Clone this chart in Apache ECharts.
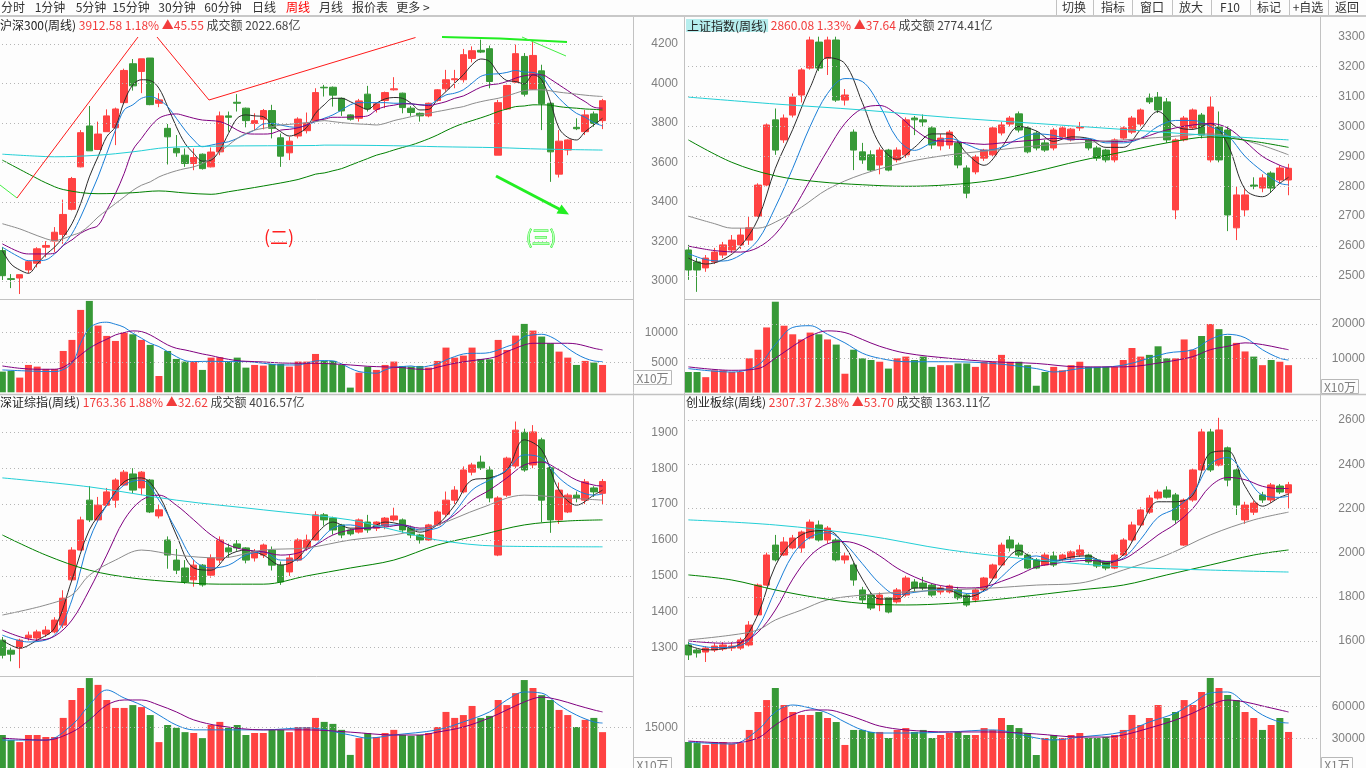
<!DOCTYPE html>
<html><head><meta charset="utf-8"><title>周线</title>
<script src="https://cdn.jsdelivr.net/npm/echarts@6.0.0/dist/echarts.min.js"></script>
<style>html,body{margin:0;padding:0;background:#fdfdfd;overflow:hidden}#chart{width:1366px;height:768px}</style>
</head><body><div id="chart"></div>
<script>
const weeks = Array.from({length:73},(_,i)=>'W'+(i+1));
// sparse [index, value] readings -> full array (null where not read; line drawn with connectNulls)
const sparse = (pairs) => { const a = new Array(70).fill(null); pairs.forEach(([i,v]) => a[i] = v); return a; };

// ---------- 沪深300 (周线) ----------  [open, close, low, high]
const hs300Ohlc = [
[3154,3027,3005,3171],[3012,3008,2964,3035],[3015,3032,2934,3032],[3056,3098,3039,3103],[3090,3163,3069,3171],
[3171,3180,3120,3202],[3202,3247,3146,3273],[3236,3337,3188,3412],[3363,3519,3358,3527],[3578,3751,3575,3764],
[3785,3659,3659,3886],[3666,3744,3663,3807],[3756,3836,3756,3869],[3776,3871,3688,3878],[3903,4066,3903,4075],
[4100,3988,3964,4124],[4061,4125,3951,4125],[4129,3893,3890,4129],[3900,3917,3880,3951],[3773,3730,3590,3795],
[3671,3649,3629,3739],[3637,3595,3578,3671],[3595,3625,3561,3671],[3642,3569,3564,3646],[3578,3653,3575,3676],
[3654,3836,3637,3858],[3836,3829,3756,3858],[3905,3900,3858,3946],[3875,3812,3778,3878],[3798,3812,3764,3849],
[3819,3863,3768,3871],[3863,3773,3722,3892],[3725,3632,3578,3747],[3649,3708,3612,3730],[3734,3820,3722,3829],
[3761,3798,3747,3853],[3812,3954,3808,3976],[3981,3978,3934,3993],[3981,3941,3883,3985],[3925,3861,3836,3929],
[3841,3819,3812,3844],[3824,3912,3807,3922],[3946,3871,3858,3988],[3869,3897,3853,3897],[3914,3954,3875,3959],
[3968,3973,3964,4032],[3951,3878,3849,3954],[3875,3853,3836,3886],[3849,3836,3807,3853],[3836,3900,3829,3903],
[3914,3968,3908,3971],[3973,4019,3959,4069],[4019,4024,3976,4069],[4019,4146,4005,4175],[4127,4166,4107,4188],
[4168,4159,4154,4222],[4176,4010,3976,4192],[3637,3903,3637,3917],[3871,3990,3866,3993],[4007,4151,4002,4197],
[4137,3946,3934,4154],[3971,4142,3968,4214],[4064,3898,3764,4095],[3900,3654,3502,3903],[3541,3708,3524,3764],
[3663,3714,3637,3717],[3778,3771,3764,3824],[3756,3841,3739,3866],[3846,3798,3781,3858],[3812,3913,3769,3922]
];
const hs300Vol = [3450,3560,2450,4560,4280,3890,3890,6890,8730,13730,15230,11120,9400,8560,9950,9670,8730,7900,2720,6890,
5560,5120,5120,3730,5780,5840,5120,5780,4110,4560,4450,4730,4730,4280,5120,5120,6390,5230,5230,4560,
780,3280,4280,3730,4560,5120,4390,4280,4390,4110,5230,7450,5780,6120,7450,5560,5500,8730,7060,9450,
11400,10290,9290,8170,6780,5780,4560,5230,4950,4560];
const hs300Ma5 = [3154,3086,3056,3039,3086,3134,3171,3222,3290,3392,3527,3629,3731,3781,3908,3993,4019,4015,3976,3883,
3781,3697,3646,3607,3612,3663,3747,3824,3841,3836,3832,3790,3756,3734,3747,3778,3849,3892,3925,3925,
3908,3886,3869,3900,3922,3929,3925,3900,3866,3869,3917,3959,4002,4044,4095,4124,4112,4053,4015,4010,
3998,4044,4019,3908,3773,3727,3714,3756,3790,3824];
const hs300Ma10 = [3171,null,3120,3103,3103,3107,3137,3180,3239,3324,3425,3527,3646,3764,3866,3892,3925,3934,3917,3883,
3824,3764,3714,3680,3688,3697,3705,3722,3744,3764,3795,3798,3790,3781,3778,3790,3807,3824,3841,3866,
3892,3903,3903,3903,3903,3900,3900,3897,3892,3892,3917,3942,3951,3968,4002,4036,4047,4049,4056,4066,
4058,4056,4036,3976,3925,3883,3849,3829,3802,3785];
const hs300Ma20 = [3188,null,3146,3137,null,3137,3141,3180,3208,3242,3264,3281,3358,3442,3544,3663,3722,3781,3824,3841,
3846,3836,3824,3815,3812,3807,3790,3764,3747,3744,3744,3747,3764,3768,3776,3790,3812,3819,3829,3829,
3830,3832,3836,3866,3883,3890,3897,3897,3892,3888,3897,3908,3925,3937,3959,3981,3993,3998,4010,4027,
4039,4044,4044,4022,3993,3964,3934,3908,3880,3875];
const hs300Ma60 = [3290,null,3264,3247,null,3214,3205,3214,3231,3247,3281,3324,3358,3392,3425,3459,3485,3502,3527,3544,
3558,3569,3578,3595,3620,3654,3688,3722,3747,3764,3773,3781,3790,3793,3798,3802,3807,3812,3807,3802,
3798,3795,3793,3790,3798,3812,3822,3832,3841,3849,3858,3866,3875,3883,3897,3908,3917,3925,3937,3951,
3964,3968,3968,3963,3956,3951,3946,3941,3937,3934];
const hs300Ma120 = sparse([[0,3612],[4,3519],[5,3497],[7,3463],[11,3442],[15,3447],[18,3456],[21,3446],[24,3439],[26,3452],
[30,3481],[34,3514],[36,3541],[37,3547],[38,3558],[39,3569],[40,3586],[41,3603],[42,3620],[43,3637],[44,3649],[45,3663],
[46,3676],[47,3688],[48,3703],[49,3720],[50,3739],[51,3761],[52,3781],[53,3798],[54,3812],[55,3826],[56,3841],[57,3858],
[58,3871],[59,3883],[60,3886],[61,3892],[62,3892],[63,3890],[64,3883],[65,3878],[66,3875],[67,3871],[68,3869],[69,3866]]);
const hs300Ma250 = sparse([[0,3642],[4,3632],[6,3629],[11,3637],[15,3654],[19,3676],[25,3683],[36,3686],[37,3688],[45,3685],
[50,3680],[57,3675],[62,3668],[69,3663]]);
const hs300VolMa5 = sparse([[0,3730],[6,3450],[8,4840],[9,8170],[10,10680],[11,11510],[12,11680],[13,11340],[14,10840],[15,9840],
[16,9010],[17,8170],[18,7620],[19,6780],[20,5950],[21,5280],[22,5120],[24,5170],[26,5120],[28,5120],[30,4840],[32,4560],
[34,4560],[35,4840],[36,5230],[37,5280],[38,5230],[39,4730],[40,4000],[41,3450],[42,3280],[43,3170],[44,3730],[45,4170],
[46,4280],[47,4390],[48,4170],[49,4390],[50,4730],[51,5390],[52,5950],[53,6390],[54,6500],[55,6500],[56,6620],[57,7060],
[58,7620],[59,8170],[60,9290],[61,9560],[62,9670],[63,9290],[64,8450],[65,7340],[66,6390],[67,5670],[68,5230],[69,5120]]);
const hs300VolMa10 = sparse([[0,4390],[2,4000],[4,3840],[6,3840],[7,4170],[8,5120],[9,6230],[10,7340],[11,8170],[12,8840],
[13,9560],[14,9950],[15,10230],[16,10120],[17,9560],[18,8730],[19,7900],[20,7340],[21,7060],[22,6730],[23,6390],[24,6120],
[25,5780],[26,5500],[27,5280],[28,5170],[30,5060],[32,4890],[34,4840],[36,4840],[38,4730],[40,4560],[42,4340],[44,4230],
[46,4110],[48,3840],[49,3840],[50,4170],[52,4840],[54,5280],[56,5670],[57,6060],[58,6780],[59,7340],[60,7900],[61,8170],
[63,8170],[65,8170],[66,8060],[67,7730],[68,7340],[69,7060]]);
const hs300Ticks = [3000,3200,3400,3600,3800,4000,4200];
const hs300VolTicks = [5000,10000];

// ---------- 上证指数 (周线) ----------
const shOhlc = [
[2587,2520,2487,2604],[2547,2520,2447,2560],[2527,2560,2514,2570],[2547,2580,2540,2594],[2570,2604,2560,2614],
[2587,2620,2577,2637],[2604,2637,2590,2660],[2620,2661,2604,2700],[2700,2804,2697,2810],[2804,3005,2800,3010],
[3022,2921,2905,3060],[2955,3028,2945,3040],[3038,3098,3030,3110],[3105,3189,3080,3195],[3195,3289,3190,3300],
[3282,3195,3185,3300],[3228,3289,3172,3300],[3289,3088,3082,3300],[3088,3105,3070,3125],[2981,2921,2854,2990],
[2915,2888,2875,2945],[2905,2854,2848,2920],[2871,2921,2840,2930],[2921,2854,2850,2925],[2888,2921,2880,2930],
[2905,3022,2895,3030],[3028,3022,2971,3035],[3022,3015,3000,3040],[2995,2938,2925,3000],[2935,2961,2920,2975],
[2938,2981,2925,2988],[2945,2871,2860,2955],[2861,2777,2760,2870],[2848,2898,2840,2905],[2894,2921,2885,2925],
[2905,2995,2900,3000],[2978,3005,2970,3015],[3008,3028,3000,3035],[3042,2988,2980,3050],[2995,2915,2910,3000],
[2978,2928,2920,2985],[2945,2921,2915,2955],[2928,2988,2920,2995],[2965,2995,2960,3000],[2955,2991,2950,2995],
[2995,2998,2985,3015],[2955,2928,2920,2960],[2928,2894,2885,2935],[2921,2888,2880,2925],[2888,2955,2880,2960],
[2961,2995,2955,3000],[2981,3028,2975,3035],[3008,3055,3000,3060],[3095,3082,3075,3110],[3098,3055,3045,3115],
[3082,2955,2945,3095],[2721,2955,2690,2960],[2955,3028,2950,3035],[2995,3055,2990,3060],[3038,2971,2960,3045],
[2888,3065,2880,3100],[2998,2888,2880,3050],[2988,2704,2650,3000],[2661,2771,2620,2800],[2721,2771,2700,2790],
[2804,2800,2790,2830],[2794,2828,2780,2840],[2844,2794,2780,2850],[2821,2861,2810,2870],[2821,2860,2770,2875]
];
const shVol = [6000,6000,4500,6500,6500,6000,6000,10000,12500,19000,26500,19500,17000,15500,17500,17000,15500,14000,5500,12500,
10000,9500,9000,7000,10000,10500,9500,10500,7500,8000,8000,8500,8500,7500,9000,9000,11000,9000,9000,8000,
2000,6000,7500,6500,8000,9000,7500,7500,7500,7500,9500,13000,10500,11000,13500,10000,10000,15500,12500,16500,
20000,18500,16500,14500,12000,10500,8000,9500,9000,8000];
const shMa5 = sparse([[0,2560],[2,2540],[4,2555],[6,2600],[8,2690],[10,2860],[12,2990],[14,3130],[16,3230],[18,3210],[20,3080],
[22,2940],[24,2890],[26,2930],[28,2975],[30,2975],[32,2910],[34,2870],[36,2930],[38,3000],[40,2985],[42,2950],[44,2965],
[46,2960],[48,2930],[50,2930],[52,2990],[54,3050],[56,3000],[58,2990],[60,3010],[62,2940],[64,2790],[66,2765],[68,2810],[69,2830]]);
const shMa10 = sparse([[0,2575],[2,2555],[4,2550],[6,2570],[8,2620],[10,2730],[12,2860],[14,3000],[16,3110],[18,3160],[20,3150],
[22,3070],[24,2960],[26,2920],[28,2945],[30,2960],[32,2940],[34,2920],[36,2930],[38,2960],[40,2975],[42,2970],[44,2955],
[46,2960],[48,2945],[50,2945],[52,2960],[54,3000],[56,3020],[58,3020],[60,3000],[62,2970],[64,2900],[66,2850],[68,2810],[69,2805]]);
const shMa20 = sparse([[0,2600],[3,2585],[6,2580],[8,2595],[10,2640],[12,2720],[14,2820],[16,2920],[18,3010],[20,3060],[22,3070],
[24,3040],[26,2990],[28,2955],[30,2950],[32,2945],[34,2940],[36,2945],[38,2950],[40,2955],[42,2960],[44,2958],[46,2955],
[48,2950],[50,2950],[52,2960],[54,2980],[56,2995],[58,3005],[60,3010],[62,2995],[64,2950],[66,2900],[68,2870],[69,2860]]);
const shMa60 = sparse([[0,2700],[3,2675],[5,2660],[8,2660],[10,2680],[13,2730],[16,2790],[20,2840],[25,2880],[30,2905],[35,2920],
[40,2935],[45,2945],[50,2955],[55,2965],[60,2975],[65,2945],[69,2905]]);
const shMa120 = sparse([[0,2955],[5,2880],[10,2835],[15,2815],[20,2805],[25,2800],[30,2805],[35,2820],[40,2850],[45,2885],[50,2915],
[55,2945],[60,2965],[65,2950],[69,2930]]);
const shMa250 = sparse([[0,3098],[10,3075],[20,3055],[30,3030],[40,3010],[50,2990],[60,2970],[69,2955]]);
const shVolMa5 = sparse([[0,7000],[5,6000],[8,8000],[10,14000],[12,19000],[14,19500],[16,17000],[18,14500],[20,11500],[22,10000],
[25,9000],[30,9000],[35,8500],[40,7000],[42,6000],[45,7000],[50,8000],[55,11500],[58,12500],[60,15500],[62,17000],[64,16000],
[66,12500],[68,10000],[69,9500]]);
const shVolMa10 = sparse([[0,7500],[5,6500],[8,7000],[10,10000],[12,13500],[14,16500],[16,18000],[18,17500],[20,15500],[22,13500],
[25,11500],[30,10000],[35,9000],[40,8500],[45,7500],[50,7500],[55,9000],[58,10500],[60,12500],[62,13500],[64,14500],[66,14000],
[68,13000],[69,12500]]);
const shTicks = [2500,2600,2700,2800,2900,3000,3100,3200,3300];
const shVolTicks = [10000,20000];

// ---------- 深证综指 (周线) ----------
const szOhlc = [
[1321,1279,1270,1330],[1293,1282,1262,1300],[1299,1321,1243,1325],[1327,1335,1320,1345],[1327,1344,1320,1350],
[1338,1349,1330,1360],[1344,1377,1340,1385],[1363,1438,1355,1460],[1489,1572,1485,1580],[1572,1656,1570,1665],
[1711,1656,1650,1750],[1656,1697,1650,1720],[1697,1734,1695,1745],[1711,1767,1690,1772],[1753,1789,1753,1795],
[1784,1739,1730,1800],[1745,1789,1725,1792],[1767,1678,1675,1770],[1667,1684,1660,1700],[1600,1558,1520,1610],
[1544,1516,1505,1575],[1522,1483,1478,1544],[1489,1530,1470,1544],[1530,1475,1470,1533],[1502,1550,1495,1560],
[1544,1600,1535,1610],[1578,1567,1550,1590],[1589,1578,1570,1600],[1578,1544,1535,1580],[1550,1567,1540,1575],
[1558,1586,1550,1590],[1572,1530,1515,1582],[1530,1483,1475,1540],[1511,1550,1500,1560],[1544,1600,1540,1605],
[1578,1600,1570,1615],[1600,1670,1598,1680],[1670,1656,1640,1675],[1661,1628,1615,1665],[1642,1614,1605,1645],
[1628,1617,1612,1632],[1622,1656,1618,1660],[1650,1628,1620,1670],[1633,1650,1625,1652],[1639,1661,1630,1664],
[1656,1667,1652,1690],[1656,1628,1620,1660],[1633,1614,1605,1640],[1614,1600,1590,1617],[1600,1642,1598,1645],
[1642,1678,1640,1682],[1672,1711,1665,1735],[1711,1739,1700,1750],[1734,1795,1730,1805],[1789,1809,1780,1815],
[1817,1801,1795,1835],[1795,1717,1705,1805],[1558,1717,1555,1722],[1725,1828,1720,1832],[1806,1906,1800,1930],
[1900,1795,1790,1910],[1809,1901,1800,1920],[1879,1711,1650,1885],[1801,1656,1620,1805],[1656,1739,1645,1760],
[1678,1725,1675,1730],[1725,1717,1705,1735],[1711,1762,1700,1770],[1745,1734,1720,1750],[1730,1763,1700,1770]
];
const szVol = [12300,10500,9800,12300,12300,11600,11600,18300,24600,28800,32300,29900,24600,21800,21800,22800,22100,19300,9800,15800,
14800,13300,13000,11200,15800,16900,14800,15800,12300,13000,13000,14100,14100,13300,15100,15100,18300,16900,16200,14100,
5300,11200,13000,11600,13000,14100,12300,12000,12300,13000,15100,20400,18300,19300,22500,18300,19000,24600,22800,27000,
31600,28800,26300,24600,21100,19300,15100,17600,18300,13300];
const szMa5 = sparse([[0,1321],[2,1299],[4,1321],[6,1355],[8,1489],[10,1628],[12,1697],[14,1762],[16,1773],[18,1725],[20,1614],
[22,1522],[24,1516],[26,1558],[28,1572],[30,1558],[32,1530],[34,1550],[36,1614],[38,1650],[40,1633],[42,1633],[44,1650],
[46,1642],[48,1622],[50,1642],[52,1697],[54,1767],[56,1773],[58,1795],[60,1879],[62,1851],[64,1739],[66,1697],[68,1725],[69,1739]]);
const szMa10 = sparse([[0,1335],[3,1316],[6,1335],[8,1433],[10,1600],[12,1697],[14,1753],[16,1767],[18,1711],[20,1628],[22,1544],
[24,1522],[26,1530],[28,1558],[30,1567],[32,1544],[34,1544],[36,1586],[38,1633],[40,1642],[42,1633],[44,1642],[46,1642],
[48,1628],[50,1633],[52,1678],[54,1739],[56,1767],[58,1795],[60,1837],[62,1828],[64,1773],[66,1739],[68,1725],[69,1728]]);
const szMa20 = sparse([[0,1349],[4,1321],[6,1332],[8,1377],[10,1461],[12,1558],[14,1656],[16,1711],[18,1725],[20,1697],[22,1656],
[24,1614],[26,1586],[28,1572],[30,1567],[32,1558],[34,1564],[36,1586],[38,1614],[40,1628],[42,1633],[44,1636],[46,1642],
[48,1633],[50,1642],[52,1670],[54,1711],[56,1739],[58,1773],[60,1809],[62,1817],[64,1795],[66,1767],[68,1753],[69,1750]]);
const szMa60 = sparse([[0,1391],[5,1419],[8,1447],[10,1502],[13,1544],[16,1572],[20,1558],[25,1550],[30,1572],[35,1578],[40,1600],
[45,1614],[50,1642],[55,1689],[60,1725],[65,1717],[69,1711]]);
const szMa120 = sparse([[0,1614],[5,1558],[10,1516],[15,1494],[20,1483],[25,1477],[30,1477],[35,1500],[40,1522],[45,1544],[50,1586],
[55,1614],[60,1642],[65,1653],[69,1656]]);
const szMa250 = sparse([[0,1773],[10,1748],[20,1711],[30,1684],[40,1656],[45,1628],[50,1600],[57,1583],[69,1581]]);
const szVolMa5 = sparse([[0,10500],[5,10500],[8,15800],[10,22800],[12,28100],[14,25300],[16,22800],[18,19300],[20,15800],[22,14100],
[25,14100],[30,14100],[35,14800],[40,12300],[42,11200],[45,12300],[50,14100],[53,16900],[56,20400],[58,24600],[60,27400],[62,27000],
[64,22800],[66,19300],[68,16900],[69,16500]]);
const szVolMa10 = sparse([[0,11200],[5,10500],[8,13300],[10,17600],[12,22800],[14,24600],[16,24600],[18,22800],[20,20400],[22,17600],
[25,15500],[30,14100],[35,14100],[40,13300],[45,12300],[48,12300],[50,13300],[53,15100],[56,18300],[58,21100],[60,23900],[62,25600],
[64,24600],[66,22800],[68,21100],[69,20400]]);
const szTicks = [1300,1400,1500,1600,1700,1800,1900];
const szVolTicks = [15000];

// ---------- 创业板综 (周线) ----------
const cyOhlc = [
[1582,1537,1514,1600],[1559,1546,1525,1565],[1550,1568,1505,1575],[1559,1577,1550,1590],[1564,1582,1555,1595],
[1568,1577,1555,1595],[1568,1605,1560,1615],[1582,1672,1575,1690],[1718,1853,1715,1860],[1853,1989,1850,2000],
[2034,1967,1960,2080],[1989,2048,1985,2070],[2021,2066,2015,2080],[2021,2093,2000,2100],[2066,2138,2060,2150],
[2125,2057,2050,2145],[2057,2111,2040,2120],[2057,1967,1960,2065],[1967,1985,1950,2000],[1944,1876,1850,1955],
[1831,1786,1770,1845],[1808,1749,1740,1820],[1763,1808,1735,1820],[1795,1731,1725,1800],[1777,1831,1770,1840],
[1808,1885,1800,1895],[1867,1840,1820,1880],[1862,1840,1830,1890],[1853,1808,1800,1860],[1822,1840,1810,1850],
[1822,1849,1815,1855],[1831,1795,1785,1845],[1808,1763,1755,1815],[1786,1831,1775,1840],[1831,1885,1825,1890],
[1885,1944,1880,1950],[1944,2034,1940,2045],[2057,2021,2005,2075],[2034,1989,1980,2045],[1989,1930,1925,1995],
[1967,1930,1925,1975],[1944,1989,1940,2000],[1985,1944,1935,2005],[1967,1989,1960,1995],[1976,2003,1965,2010],
[1989,2012,1980,2035],[1989,1958,1950,1995],[1967,1939,1930,1975],[1958,1930,1920,1962],[1930,1989,1925,1995],
[1989,2057,1985,2065],[2057,2125,2050,2140],[2125,2193,2115,2205],[2183,2247,2175,2260],[2247,2274,2240,2285],
[2283,2251,2245,2300],[2261,2148,2130,2270],[2034,2238,2030,2245],[2238,2374,2230,2380],[2374,2546,2370,2560],
[2546,2374,2365,2560],[2396,2555,2390,2610],[2474,2328,2300,2480],[2374,2215,2170,2380],[2148,2215,2130,2230],
[2183,2224,2170,2235],[2261,2238,2225,2275],[2238,2306,2225,2315],[2301,2274,2265,2310],[2270,2307,2200,2320]
];
const cyVol = [26500,25500,23700,26500,26500,24600,25500,37900,54900,66200,77600,61500,54900,52100,52100,54900,49200,45400,23700,37900,
37900,36000,36000,30300,37900,39700,36000,37900,30300,33100,35000,36000,33100,33100,39700,37900,49200,42600,39700,35000,
14200,30300,33100,30300,33100,35000,30300,30300,31200,33100,37900,52100,42600,49200,61500,49200,54900,66200,61500,73800,
87100,77600,71000,66200,54900,49200,37900,42600,49200,36000];
const cyMa5 = sparse([[0,1580],[2,1560],[4,1565],[6,1590],[8,1720],[10,1940],[12,2050],[14,2095],[16,2100],[18,2030],[20,1880],
[22,1790],[24,1790],[26,1840],[28,1840],[30,1830],[32,1800],[34,1830],[36,1940],[38,2010],[40,1965],[42,1960],[44,1980],
[46,1985],[48,1950],[50,1990],[52,2120],[54,2230],[56,2230],[58,2260],[60,2450],[62,2460],[64,2300],[66,2210],[68,2250],[69,2265]]);
const cyMa10 = sparse([[0,1590],[3,1570],[6,1580],[8,1660],[10,1830],[12,1990],[14,2070],[16,2090],[18,2040],[20,1950],[22,1860],
[24,1810],[26,1820],[28,1830],[30,1835],[32,1815],[34,1825],[36,1890],[38,1960],[40,1985],[42,1965],[44,1970],[46,1975],
[48,1960],[50,1975],[52,2060],[54,2160],[56,2200],[58,2270],[60,2400],[62,2430],[64,2350],[66,2260],[68,2250],[69,2255]]);
const cyMa20 = sparse([[0,1600],[4,1590],[6,1595],[8,1640],[10,1740],[12,1880],[14,1985],[16,2040],[18,2050],[20,2030],[22,1985],
[24,1930],[26,1890],[28,1860],[30,1845],[32,1840],[34,1845],[36,1870],[38,1900],[40,1935],[42,1950],[44,1960],[46,1965],
[48,1960],[50,1970],[52,2020],[54,2080],[56,2130],[58,2200],[60,2300],[62,2340],[64,2330],[66,2300],[68,2290],[69,2290]]);
const cyMa60 = sparse([[0,1605],[5,1627],[8,1650],[10,1695],[13,1740],[16,1786],[20,1808],[25,1822],[30,1831],[35,1840],[40,1853],
[45,1862],[50,1921],[55,1989],[60,2080],[65,2148],[69,2183]]);
const cyMa120 = sparse([[0,1899],[5,1876],[10,1831],[15,1795],[20,1770],[25,1763],[30,1770],[35,1786],[40,1808],[45,1831],[50,1853],
[55,1899],[60,1944],[65,1989],[69,2012]]);
const cyMa250 = sparse([[0,2148],[10,2125],[20,2080],[30,2012],[40,1967],[50,1935],[60,1921],[69,1912]]);
const cyVolMa5 = sparse([[0,26500],[5,24600],[8,37900],[10,54900],[12,61500],[14,58700],[16,53900],[18,45400],[20,37900],[22,35000],
[25,35000],[30,36000],[35,37900],[40,30300],[42,28400],[45,31200],[50,36000],[53,45400],[56,53900],[58,63400],[60,72900],[62,73800],
[64,63400],[66,52100],[68,45400],[69,44500]]);
const cyVolMa10 = sparse([[0,27400],[5,25600],[8,30300],[10,42600],[12,52100],[14,56800],[16,56800],[18,53000],[20,47300],[22,41600],
[25,37900],[30,36000],[35,36000],[40,34100],[45,31200],[48,31200],[50,33100],[53,39700],[56,47300],[58,53900],[60,61500],[62,66200],
[64,64400],[66,60600],[68,56800],[69,54900]]);
const cyTicks = [1600,1800,2000,2200,2400,2600];
const cyVolTicks = [30000,60000];

// ---------- layout / style ----------
const RED = '#ff4242', GREEN = '#379937';
const MA_COLORS = ['#2b2b2b','#1a7fd8','#800080','#8c8c8c','#008000','#22cfd6'];
const FONT = '"Noto Sans CJK SC", sans-serif';
const NUMFONT = '"Liberation Sans", Arial, sans-serif';

const panels = [
  {left:-2, top:18, h:281, vTop:300, vH:92.3, min:2908.9, max:4331.6, vMax:15383, ticks:hs300Ticks, vTicks:hs300VolTicks,
   ohlc:hs300Ohlc, vol:hs300Vol, mas:[hs300Ma5,hs300Ma10,hs300Ma20,hs300Ma60,hs300Ma120,hs300Ma250], vmas:[hs300VolMa5,hs300VolMa10], margin:45},
  {left:684, top:18, h:281, vTop:300, vH:92.6, min:2423.1, max:3362.5, vMax:27000, ticks:shTicks, vTicks:shVolTicks, gridSkip:[3300],
   ohlc:shOhlc, vol:shVol, mas:[shMa5,shMa10,shMa20,shMa60,shMa120,shMa250], vmas:[shVolMa5,shVolMa10], margin:46},
  {left:-2, top:396, h:280, vTop:677, vH:93, min:1221.2, max:2001.1, vMax:32670, ticks:szTicks, vTicks:szVolTicks,
   ohlc:szOhlc, vol:szVol, mas:[szMa5,szMa10,szMa20,szMa60,szMa120,szMa250], vmas:[szVolMa5,szVolMa10], margin:45},
  {left:684, top:396, h:280, vTop:677, vH:93, min:1441.6, max:2708.6, vMax:88013, ticks:cyTicks, vTicks:cyVolTicks,
   ohlc:cyOhlc, vol:cyVol, mas:[cyMa5,cyMa10,cyMa20,cyMa60,cyMa120,cyMa250], vmas:[cyVolMa5,cyVolMa10], margin:46}
];

const grid = [], xAxis = [], yAxis = [], series = [];
panels.forEach((p, k) => {
  const gi = 2*k, vi = 2*k+1;
  grid.push({left:p.left, top:p.top, width:635, height:p.h, containLabel:false, outerBoundsMode:'none'});
  grid.push({left:p.left, top:p.vTop, width:635, height:p.vH, containLabel:false, outerBoundsMode:'none'});
  [gi, vi].forEach(g => xAxis.push({type:'category', gridIndex:g, data:weeks, boundaryGap:true, show:false}));
  const lab = (vals) => ({show:true, customValues:vals, formatter:(v)=>String(Math.round(v)), color:'#808080', fontSize:12,
    fontFamily:NUMFONT, align:'right', margin:p.margin});
  yAxis.push({type:'value', gridIndex:gi, position:'right', min:p.min, max:p.max,
    splitLine:{show:false}, axisLine:{show:false}, axisTick:{show:false}, axisLabel:lab(p.ticks)});
  yAxis.push({type:'value', gridIndex:vi, position:'right', min:0, max:p.vMax,
    splitLine:{show:false}, axisLine:{show:false}, axisTick:{show:false}, axisLabel:lab(p.vTicks)});
  const ml = (vals) => ({silent:true, symbol:['none','none'], animation:false, label:{show:false},
    lineStyle:{color:'#b5b5b5', type:[1,3], width:1}, emphasis:{disabled:true}, data:vals.map(v=>({yAxis:v}))});
  const gridVals = p.ticks.filter(v => !(p.gridSkip||[]).includes(v));
  series.push({type:'candlestick', xAxisIndex:gi, yAxisIndex:gi, data:p.ohlc, barWidth:7, silent:true,
    itemStyle:{color:RED, color0:GREEN, borderColor:RED, borderColor0:GREEN, borderWidth:1},
    markLine:ml(gridVals), z:2});
  p.mas.forEach((d, j) => series.push({type:'line', xAxisIndex:gi, yAxisIndex:gi, data:d, symbol:'none', showSymbol:false,
    smooth:0.35, connectNulls:true, silent:true, lineStyle:{width:1, color:MA_COLORS[j]}, z:3}));
  series.push({type:'bar', xAxisIndex:vi, yAxisIndex:vi, barWidth:7, silent:true,
    data:p.vol.map((v,i)=>({value:v, itemStyle:{color: p.ohlc[i][1] >= p.ohlc[i][0] ? RED : GREEN}})),
    markLine:ml(p.vTicks), z:2});
  p.vmas.forEach((d, j) => series.push({type:'line', xAxisIndex:vi, yAxisIndex:vi, data:d, symbol:'none', showSymbol:false,
    smooth:0.35, connectNulls:true, silent:true, lineStyle:{width:1, color: j===0 ? '#1a7fd8' : '#800080'}, z:3}));
});

// ---------- chrome (toolbar, frame, headers, annotations) ----------
const G = [];
const txt = (x,y,text,opt={}) => G.push({type:'text', x, y, z:100, silent:true, style:Object.assign({text, fill:'#333',
  font:'12px ' + FONT, align:'center', verticalAlign:'middle'}, opt)});
const ln = (x1,y1,x2,y2,stroke='#c2c2c2',w=1) => G.push({type:'line', z:90, silent:true, shape:{x1,y1,x2,y2}, style:{stroke, lineWidth:w}});

const tabs = [['分时',13],['1分钟',50],['5分钟',91],['15分钟',131],['30分钟',177],['60分钟',223],['日线',264],['周线',298],['月线',331],['报价表',370],['更多 >',413]];
tabs.forEach(([t,x]) => txt(x, 7, t, {fill: t==='周线' ? '#ff0000' : '#333'}));
const btns = [['切换',1074],['指标',1113],['窗口',1152],['放大',1191],['F10',1230],['标记',1269],['+自选',1308],['返回',1347]];
btns.forEach(([t,x]) => txt(x, 7, t));
[1056,1093,1132,1172,1211,1250,1289,1328].forEach(x => ln(x+0.5,0,x+0.5,15));
ln(0,16,1366,16,'#c8c8c8',2);
ln(633.5,17,633.5,768); ln(684.5,17,684.5,768); ln(1320.5,17,1320.5,768);
ln(0,299.5,633,299.5); ln(684,299.5,1320,299.5);
ln(0,394.5,1366,394.5,'#c2c2c2',1.5);
ln(0,676.5,633,676.5); ln(684,676.5,1320,676.5);
const box = (x,y,w,h,t) => { G.push({type:'rect', z:95, silent:true, shape:{x,y,width:w,height:h}, style:{fill:'#fdfdfd', stroke:'#b8b8b8', lineWidth:1}});
  txt(x+w/2, y+h/2+0.5, t, {fill:'#7f7f7f', font:'12px ' + FONT}); };
box(633.5,370.5,38,14,'X10万'); box(1321.5,379.5,37,14,'X10万'); box(633.5,757.5,38,14,'X10万'); box(1321.5,757.5,31,14,'X1万');

// hand-drawn annotations on 沪深300
const pl = (pts, stroke, w) => G.push({type:'polyline', z:110, silent:true, shape:{points:pts}, style:{stroke, lineWidth:w, fill:null}});
pl([[0,185],[17,198]], '#44ee44', 1);
pl([[17,198],[138,37]], '#ff1a1a', 1);
pl([[157,37],[209,100],[415.5,37.5]], '#ff1a1a', 1);
pl([[442,37],[500,38.5],[567,42]], '#22ee22', 2);
pl([[522,37],[566,56]], '#44ee44', 1);
pl([[496,176],[562,210.5]], '#22ee22', 3);
G.push({type:'polygon', z:110, silent:true, shape:{points:[[569,214.5],[556.5,213.5],[561.5,204.5]]}, style:{fill:'#22ee22'}});
txt(279,237.5,'(二)',{fill:'#ff2020', font:'18px ' + FONT});
txt(541,237.5,'(三)',{fill:'#b8ffb8', stroke:'#22ee22', lineWidth:1, font:'18px ' + FONT});

const rich = {n:{color:'#222', fontSize:12, fontFamily:FONT}, nb:{color:'#222', fontSize:12, fontFamily:FONT, backgroundColor:'#b6eeee', padding:[1,1,0,1]},
  r:{color:'#f23c3c', fontSize:12, fontFamily:FONT}, g:{color:'#444', fontSize:12, fontFamily:FONT}};
const head = (left, top, name, vals, amt, nb) => ({left, top, padding:0, text:`{${nb?'nb':'n'}|${name}} {r|${vals}} {g|${amt}}`,
  textStyle:{fontSize:12, fontWeight:'normal', fontFamily:FONT, rich}});
const title = [
  head(0, 19, '沪深300(周线)', '3912.58 1.18% ▲45.55', '成交额 2022.68亿'),
  head(686, 19, '上证指数(周线)', '2860.08 1.33% ▲37.64', '成交额 2774.41亿', true),
  head(0, 396, '深证综指(周线)', '1763.36 1.88% ▲32.62', '成交额 4016.57亿'),
  head(686, 396, '创业板综(周线)', '2307.37 2.38% ▲53.70', '成交额 1363.11亿')
];

const chart = echarts.init(document.getElementById('chart'), null, {renderer:'canvas'});
chart.setOption({backgroundColor:'#fdfdfd', animation:false, title, grid, xAxis, yAxis, series, graphic:{elements:G}});
</script></body></html>
